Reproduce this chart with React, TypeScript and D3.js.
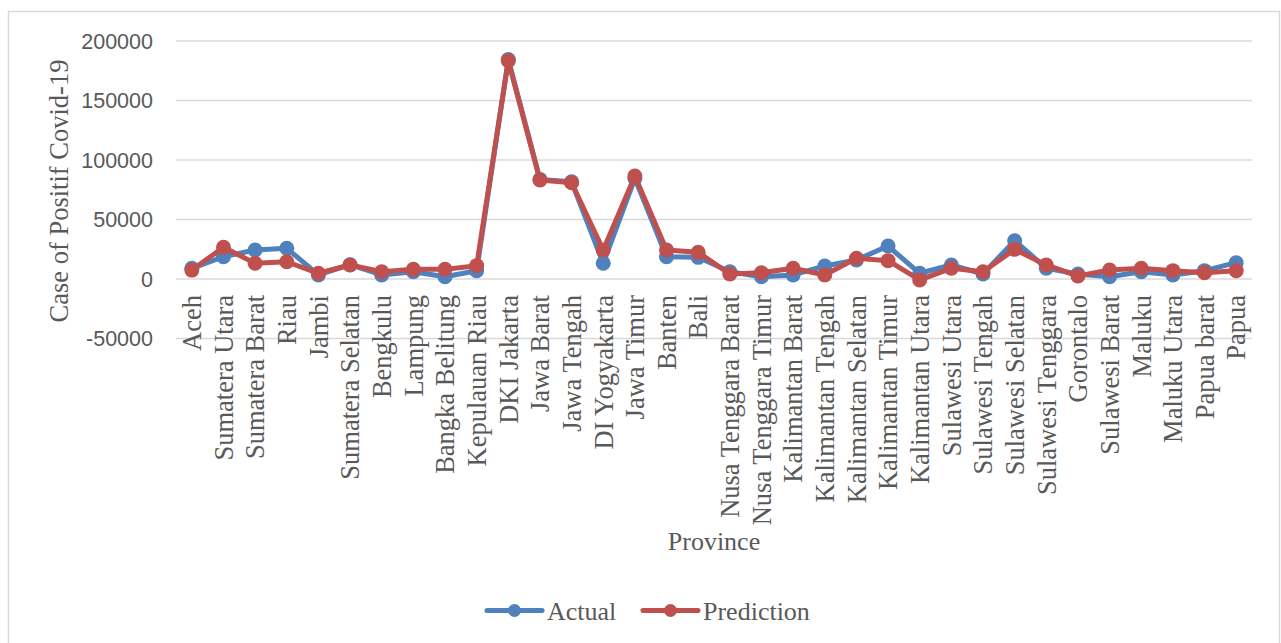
import React from "react";
import * as d3 from "d3";

const provinces: string[] = [
  "Aceh", "Sumatera Utara", "Sumatera Barat", "Riau", "Jambi", "Sumatera Selatan",
  "Bengkulu", "Lampung", "Bangka Belitung", "Kepulauan Riau", "DKI Jakarta",
  "Jawa Barat", "Jawa Tengah", "DI Yogyakarta", "Jawa Timur", "Banten", "Bali",
  "Nusa Tenggara Barat", "Nusa Tenggara Timur", "Kalimantan Barat", "Kalimantan Tengah",
  "Kalimantan Selatan", "Kalimantan Timur", "Kalimantan Utara", "Sulawesi Utara",
  "Sulawesi Tengah", "Sulawesi Selatan", "Sulawesi Tenggara", "Gorontalo",
  "Sulawesi Barat", "Maluku", "Maluku Utara", "Papua barat", "Papua",
];

const actual: number[] = [
  9000, 18700, 24400, 25800, 3400, 12000, 3400, 6100, 1900, 7000, 184500,
  83700, 81700, 13200, 84600, 18700, 18200, 6100, 1900, 3400, 10900,
  16000, 27700, 4800, 11800, 4200, 32200, 9000, 4200, 1900, 6100, 3400, 7000, 13700,
];

const prediction: number[] = [
  7500, 26600, 13200, 14500, 4800, 11800, 6100, 8100, 8100, 11200, 183400,
  83200, 80900, 24400, 86500, 24400, 22400, 4200, 5300, 9000, 3400,
  17400, 15400, -800, 9000, 6100, 24900, 11800, 2500, 7600, 9000, 7000, 5300, 7000,
];

const yTicks: number[] = [-50000, 0, 50000, 100000, 150000, 200000];

const seriesNames: string[] = ["Actual", "Prediction"];

const W = 1281;
const H = 643;
const BLUE = "#4F81BD";
const RED = "#C0504D";
const TEXT = "#595959";
const GRID = "#D9D9D9";
const SERIF = "'Liberation Serif', 'Times New Roman', serif";
const SANS = "'Liberation Sans', Arial, sans-serif";

export default function App() {
  React.useEffect(() => {
    document.body.style.margin = "0";
  }, []);

  const x = d3.scalePoint<string>().domain(provinces).range([176, 1252]).padding(0.5);
  const y = d3.scaleLinear().domain([-50000, 200000]).range([338.5, 41]);

  const line = d3
    .line<number>()
    .x((_, i) => x(provinces[i]) as number)
    .y((d) => y(d));

  const series = [
    { name: seriesNames[0], values: actual, color: BLUE },
    { name: seriesNames[1], values: prediction, color: RED },
  ];

  const legendItems = [
    { name: seriesNames[0], color: BLUE, x0: 487 },
    { name: seriesNames[1], color: RED, x0: 643 },
  ];

  return (
    <svg
      width={W}
      height={H}
      style={{ position: "absolute", left: 0, top: 0, background: "#fff" }}
    >
      <rect x={8.5} y={11.5} width={1271} height={700} fill="#fff" stroke={GRID} strokeWidth={1.5} />

      {yTicks.map((t) => (
        <g key={t}>
          <line x1={176} x2={1252} y1={y(t)} y2={y(t)} stroke={GRID} strokeWidth={1.5} />
          <text
            x={153}
            y={y(t)}
            dy="0.36em"
            textAnchor="end"
            fontFamily={SANS}
            fontSize={21.5}
            fill={TEXT}
          >
            {t}
          </text>
        </g>
      ))}

      {provinces.map((p) => (
        <text
          key={p}
          transform={`translate(${x(p)},295) rotate(-90)`}
          dy="0.35em"
          textAnchor="end"
          fontFamily={SERIF}
          fontSize={26.5}
          fill={TEXT}
        >
          {p}
        </text>
      ))}

      <text
        transform="translate(68,191) rotate(-90)"
        textAnchor="middle"
        fontFamily={SERIF}
        fontSize={26.5}
        fill={TEXT}
      >
        Case of Positif Covid-19
      </text>

      <text x={714} y={550} textAnchor="middle" fontFamily={SERIF} fontSize={26} fill={TEXT}>
        Province
      </text>

      {series.map((s) => (
        <g key={s.name}>
          <path
            d={line(s.values) || ""}
            fill="none"
            stroke={s.color}
            strokeWidth={5}
            strokeLinejoin="round"
            strokeLinecap="round"
          />
          {s.values.map((v, i) => (
            <circle key={i} cx={x(provinces[i])} cy={y(v)} r={7.5} fill={s.color} />
          ))}
        </g>
      ))}

      {legendItems.map((l) => (
        <g key={l.name}>
          <line
            x1={l.x0}
            x2={l.x0 + 55}
            y1={610.5}
            y2={610.5}
            stroke={l.color}
            strokeWidth={5}
            strokeLinecap="round"
          />
          <circle cx={l.x0 + 27.5} cy={610.5} r={6.5} fill={l.color} />
          <text x={l.x0 + 60} y={620} fontFamily={SERIF} fontSize={26} fill={TEXT}>
            {l.name}
          </text>
        </g>
      ))}
    </svg>
  );
}
